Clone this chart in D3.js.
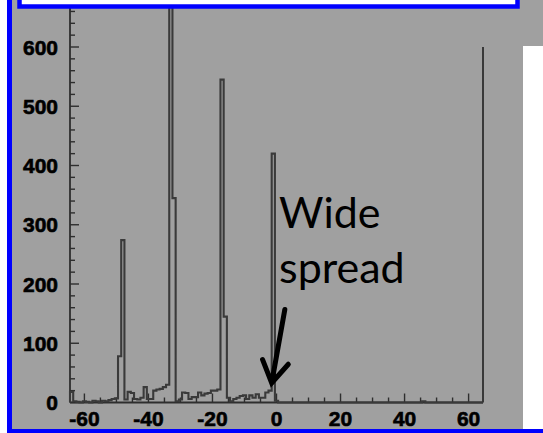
<!DOCTYPE html>
<html>
<head>
<meta charset="utf-8">
<script src="https://cdn.jsdelivr.net/npm/d3@7"></script>
<style>
  body { margin: 0; background: #fff; }
  svg { display: block; }
</style>
</head>
<body>
<div id="chart"></div>
<script>
"use strict"

// histogram: bins of width 1, first bin centred on -64
var binFirst = -64
var counts = [
  18, 2, 1, 0, 2, 1, 0, 3, 2, 0, 3, 2, 4, 6, 7,          // -64 .. -50
  78, 274, 5, 18, 16, 6, 5, 8, 26, 6, 6, 20, 22, 23, 26, 30, // -49 .. -34
  760, 345, 2, 5, 17, 16, 6, 9, 9, 17, 12, 15, 16, 20, 20, 22, // -33 .. -18
  545, 145, 8, 2, 6, 8, 11, 12, 6, 12, 8, 14, 8, 8, 17, 20,   // -17 .. -2
  420, 3,                                                  // -1, 0
  0, 0, 0, 0, 0, 0, 0, 0, 0, 0, 0, 0, 0, 0, 0, 0,          // 1 .. 16
  0, 0, 0, 0, 0, 0, 0, 0, 0, 0, 0, 0, 0, 0, 0, 0,          // 17 .. 32
  0, 0, 0, 0, 0, 0, 0, 0, 0, 0, 0, 0, 0, 2, 0, 0,          // 33 .. 48
  0, 0, 0, 0, 0, 0, 0, 0, 0, 0, 0, 0, 0, 0, 0, 0           // 49 .. 64
]
var xTickLabels = [-60, -40, -20, 0, 20, 40, 60]
var yTickLabels = [0, 100, 200, 300, 400, 500, 600]
var frameTopValue = 600
var noteLines = ["Wide", "spread"]
var arrowFrom = [2.6, 157]
var arrowTo = [-1.5, 33]

var width = 543
var height = 433

var x = d3.scaleLinear().domain([-64.5, 64.5]).range([70, 483])
var y = d3.scaleLinear().domain([0, 600]).range([402.5, 47])

var svg = d3.select("#chart").append("svg")
    .attr("width", width)
    .attr("height", height)

// slide background pieces
svg.append("rect").attr("x", 12).attr("y", 0).attr("width", 531).attr("height", 429).attr("fill", "#a0a0a0")
svg.append("rect").attr("x", 523).attr("y", 46).attr("width", 20).attr("height", 383).attr("fill", "#fff")

var axisColor = "#2e2e2e"

// x axis ticks, pointing up
var xMinor = d3.range(-60, 61, 5)
svg.append("g").selectAll("line").data(xMinor).join("line")
    .attr("x1", function(d) { return x(d) }).attr("x2", function(d) { return x(d) })
    .attr("y1", y(0))
    .attr("y2", function(d) { return y(0) - (d % 20 === 0 ? 9 : 5) })
    .attr("stroke", axisColor).attr("stroke-width", 1.4)

// y axis ticks, pointing right
var yMinor = d3.range(0, 661, 20)
svg.append("g").selectAll("line").data(yMinor).join("line")
    .attr("x1", x(-64.5))
    .attr("x2", function(d) { return x(-64.5) + (d % 100 === 0 ? 9 : 5) })
    .attr("y1", function(d) { return y(d) }).attr("y2", function(d) { return y(d) })
    .attr("stroke", axisColor).attr("stroke-width", 1.4)

// frame lines
svg.append("line").attr("x1", x(-64.5)).attr("x2", x(64.5)).attr("y1", y(0)).attr("y2", y(0))
    .attr("stroke", axisColor).attr("stroke-width", 1.8)
svg.append("line").attr("x1", x(-64.5)).attr("x2", x(-64.5)).attr("y1", y(0)).attr("y2", 0)
    .attr("stroke", axisColor).attr("stroke-width", 1.8)
svg.append("line").attr("x1", x(64.5)).attr("x2", x(64.5)).attr("y1", y(0)).attr("y2", y(frameTopValue))
    .attr("stroke", axisColor).attr("stroke-width", 1.8)

// histogram outline
var pts = [[binFirst - 0.5, 0]]
counts.forEach(function(c, i) { pts.push([binFirst - 0.5 + i, c]) })
pts.push([binFirst - 0.5 + counts.length, counts[counts.length - 1]])
pts.push([binFirst - 0.5 + counts.length, 0])

var line = d3.line()
    .x(function(d) { return x(d[0]) })
    .y(function(d) { return y(d[1]) })
    .curve(d3.curveStepAfter)

svg.append("path")
    .datum(pts)
    .attr("d", line)
    .attr("fill", "none")
    .attr("stroke", "#3a3a3a")
    .attr("stroke-width", 2.1)
    .attr("stroke-linejoin", "miter")

// tick labels
var labelFont = "'Liberation Sans', Arial, Helvetica, sans-serif"
svg.append("g").selectAll("text").data(yTickLabels).join("text")
    .attr("x", 58)
    .attr("y", function(d) { return y(d) })
    .attr("dy", "0.36em")
    .attr("text-anchor", "end")
    .attr("fill", "#000").attr("stroke", "#000").attr("stroke-width", 0.6)
    .style("font-family", labelFont).style("font-weight", "bold").style("font-size", "21px")
    .text(function(d) { return d })

svg.append("g").selectAll("text").data(xTickLabels).join("text")
    .attr("x", function(d) { return x(d) })
    .attr("y", 426)
    .attr("text-anchor", "middle")
    .attr("fill", "#000").attr("stroke", "#000").attr("stroke-width", 0.6)
    .style("font-family", labelFont).style("font-weight", "bold").style("font-size", "21px")
    .text(function(d) { return d < 0 ? "-" + Math.abs(d) : d })

// annotation
var note = svg.append("g")
note.selectAll("text").data(noteLines).join("text")
    .attr("x", x(0.8))
    .attr("y", function(d, i) { return y(295) + i * 55 })
    .style("font-family", "Lato, 'Open Sans', sans-serif")
    .style("font-size", "43px")
    .attr("fill", "#000")
    .text(function(d) { return d })

var ax0 = x(arrowFrom[0]), ay0 = y(arrowFrom[1])
var ax1 = x(arrowTo[0]), ay1 = y(arrowTo[1])
var ang = Math.atan2(ay1 - ay0, ax1 - ax0)
var wing = 25
var spread = 0.55
var arrowPath = "M" + ax0 + "," + ay0 + "L" + ax1 + "," + ay1 +
    "M" + (ax1 - wing * Math.cos(ang - spread)) + "," + (ay1 - wing * Math.sin(ang - spread)) +
    "L" + ax1 + "," + ay1 +
    "L" + (ax1 - wing * Math.cos(ang + spread)) + "," + (ay1 - wing * Math.sin(ang + spread))
svg.append("path")
    .attr("d", arrowPath)
    .attr("fill", "none")
    .attr("stroke", "#000")
    .attr("stroke-width", 5)
    .attr("stroke-linecap", "round")
    .attr("stroke-linejoin", "miter")

// slide frame: blue borders and the white box at top
svg.append("rect").attr("x", 19.5).attr("y", -20).attr("width", 498).attr("height", 26.5)
    .attr("fill", "#fff").attr("stroke", "#0000ff").attr("stroke-width", 4.5)
svg.append("rect").attr("x", 7).attr("y", 0).attr("width", 5).attr("height", height).attr("fill", "#0000ff")
svg.append("rect").attr("x", 7).attr("y", 429).attr("width", width - 7).attr("height", 4).attr("fill", "#0000ff")
</script>
</body>
</html>
